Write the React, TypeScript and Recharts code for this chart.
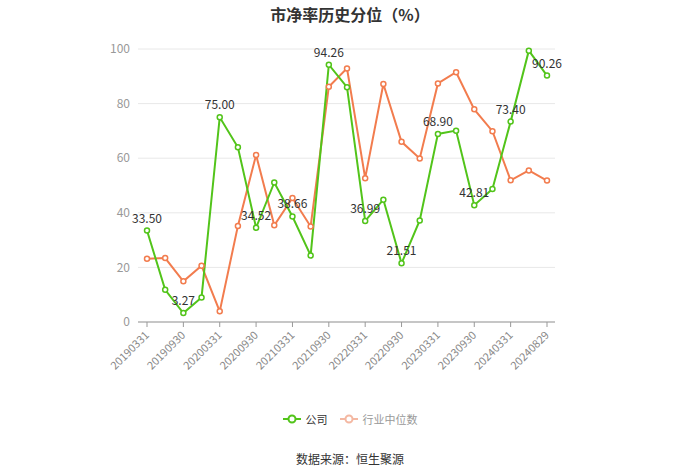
import { LineChart, Line, XAxis, YAxis, CartesianGrid, LabelList } from "recharts";

const dates = [
  "20190331", "20190630", "20190930", "20191231", "20200331", "20200630",
  "20200930", "20201231", "20210331", "20210630", "20210930", "20211231",
  "20220331", "20220630", "20220930", "20221231", "20230331", "20230630",
  "20230930", "20231231", "20240331", "20240630", "20240829",
];

const company = [
  33.5, 11.8, 3.27, 9.0, 75.0, 64.0, 34.52, 51.1, 38.66, 24.4, 94.26, 86.0,
  36.99, 44.8, 21.51, 37.2, 68.9, 70.1, 42.81, 48.7, 73.4, 99.4, 90.26,
];

const industry = [
  23.2, 23.4, 14.9, 20.6, 3.9, 35.2, 61.2, 35.4, 45.4, 35.0, 86.2, 92.9,
  52.7, 87.2, 66.0, 59.9, 87.4, 91.5, 77.9, 69.9, 51.9, 55.5, 51.8,
];

const yTicks = [0, 20, 40, 60, 80, 100];

const GREEN = "#52c41a";
const ORANGE = "#f27c4e";
const FONT = "'Noto Sans CJK SC', 'Noto Sans', sans-serif";

const data = dates.map((d, i) => ({ date: d, company: company[i], industry: industry[i] }));

const XTick = (props: any) => {
  const { x, y, payload } = props;
  return (
    <g transform={`translate(${x},${y + 4})`}>
      <text textAnchor="end" transform="rotate(-45)" fontSize={11} fill="#888" fontFamily={FONT} dy={4}>
        {payload.value}
      </text>
    </g>
  );
};

const PointLabel = (props: any) => {
  const { x, y, index, value } = props;
  if (index % 2 !== 0) return null;
  return (
    <text x={x} y={y - 8} textAnchor="middle" fontSize={12} fill="#333" fontFamily={FONT}>
      {Number(value).toFixed(2)}
    </text>
  );
};

const LegendIcon = ({ color }: { color: string }) => (
  <svg width={18} height={10} style={{ verticalAlign: "middle", marginRight: 5 }}>
    <line x1={0} y1={5} x2={18} y2={5} stroke={color} strokeWidth={2} />
    <circle cx={9} cy={5} r={3.5} fill="#fff" stroke={color} strokeWidth={2} />
  </svg>
);

export default function App() {
  return (
    <div style={{ position: "fixed", left: 0, top: 0, width: 700, height: 474, background: "#fff", fontFamily: FONT }}>
      <div style={{ position: "absolute", top: 2, left: 0, width: 700, textAlign: "center", fontSize: 16, fontWeight: "bold", color: "#333" }}>
        市净率历史分位（%）
      </div>
      <LineChart width={700} height={474} data={data} margin={{ top: 49, right: 145, left: 0, bottom: 92 }}>
        <CartesianGrid vertical={false} stroke="#e8e8e8" />
        <XAxis
          dataKey="date"
          interval={1}
          tick={<XTick />}
          height={60}
          padding={{ left: 9, right: 8 }}
          stroke="#999"
          tickSize={5}
        />
        <YAxis
          domain={[0, 100]}
          ticks={yTicks}
          width={138}
          axisLine={false}
          tickLine={false}
          tick={{ fontSize: 12, fill: "#999", fontFamily: FONT }}
        />
        <Line
          dataKey="industry"
          stroke={ORANGE}
          strokeWidth={2}
          dot={{ r: 2.5, fill: "#fff", stroke: ORANGE, strokeWidth: 1.5 }}
          isAnimationActive={false}
        />
        <Line
          dataKey="company"
          stroke={GREEN}
          strokeWidth={2}
          dot={{ r: 2.5, fill: "#fff", stroke: GREEN, strokeWidth: 1.5 }}
          isAnimationActive={false}
        >
          <LabelList dataKey="company" content={<PointLabel />} />
        </Line>
      </LineChart>
      <div style={{ position: "absolute", top: 409, left: 0, width: 700, textAlign: "center", fontSize: 11, color: "#333" }}>
        <span style={{ marginRight: 12 }}>
          <LegendIcon color={GREEN} />
          <span style={{ verticalAlign: "middle" }}>公司</span>
        </span>
        <span style={{ color: "#999" }}>
          <LegendIcon color="#f4b8a2" />
          <span style={{ verticalAlign: "middle" }}>行业中位数</span>
        </span>
      </div>
      <div style={{ position: "absolute", top: 450, left: 0, width: 700, textAlign: "center", fontSize: 12, color: "#333" }}>
        数据来源：恒生聚源
      </div>
    </div>
  );
}
